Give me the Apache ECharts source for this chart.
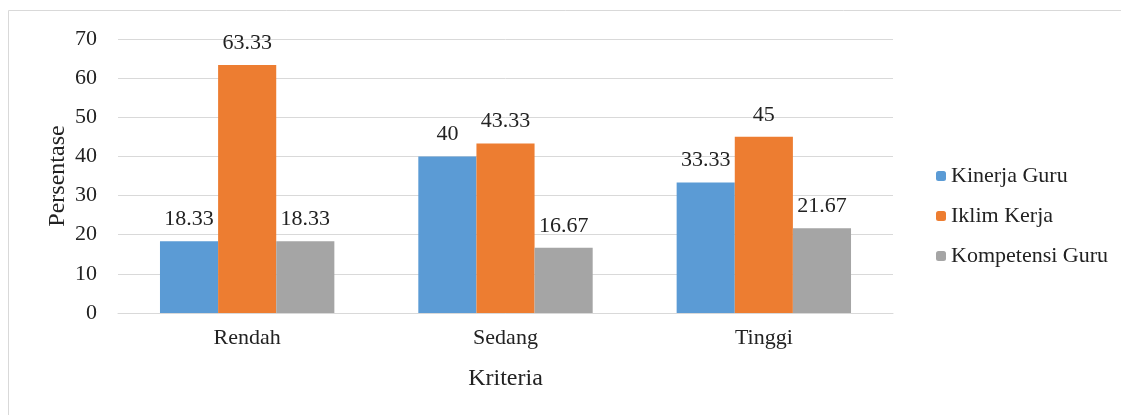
<!DOCTYPE html>
<html><head><meta charset="utf-8">
<script src="https://cdn.jsdelivr.net/npm/echarts@6/dist/echarts.min.js"></script>
<style>html,body{margin:0;padding:0;background:#fff}#c{width:1121px;height:415px}</style>
</head><body><div id="c"></div>
<script>
const categories = ['Rendah', 'Sedang', 'Tinggi'];
const kinerjaGuru = [18.33, 40, 33.33];
const iklimKerja = [63.33, 43.33, 45];
const kompetensiGuru = [18.33, 16.67, 21.67];
const yTicks = {min: 0, max: 70, interval: 10};

const font = '"Liberation Serif", "Times New Roman", serif';
const chart = echarts.init(document.getElementById('c'));
const lbl = {show: true, position: 'top', fontFamily: font, fontSize: 22, color: '#222', distance: 11};
function mk(name, data, color) {
  return {name, type: 'bar', data, itemStyle: {color}, barGap: 0, barCategoryGap: '32.5%', label: lbl};
}
chart.setOption({
  animation: false,
  graphic: [{type: 'rect', shape: {x: 8.5, y: 10.5, width: 1130, height: 420}, style: {fill: 'none', stroke: '#d9d9d9', lineWidth: 1}}],
  grid: {left: 118, right: 228, top: 39, bottom: 102, containLabel: false},
  legend: {
    orient: 'vertical', left: 931, top: 160, itemWidth: 10, itemHeight: 10, itemGap: 18,
    textStyle: {fontFamily: font, fontSize: 22, color: '#222'},
    data: ['Kinerja Guru', 'Iklim Kerja', 'Kompetensi Guru']
  },
  xAxis: {
    type: 'category', data: categories,
    name: 'Kriteria', nameLocation: 'middle', nameGap: 54, nameMoveOverlap: false,
    nameTextStyle: {fontFamily: font, fontSize: 24, color: '#222'},
    axisLine: {lineStyle: {color: '#d9d9d9', width: 1}},
    axisTick: {show: false},
    axisLabel: {fontFamily: font, fontSize: 22, color: '#222', margin: 14}
  },
  yAxis: {
    type: 'value', min: yTicks.min, max: yTicks.max, interval: yTicks.interval,
    name: 'Persentase', nameLocation: 'middle', nameGap: 48, nameRotate: 90, nameMoveOverlap: false,
    nameTextStyle: {fontFamily: font, fontSize: 24, color: '#222'},
    axisLine: {show: false}, axisTick: {show: false},
    axisLabel: {fontFamily: font, fontSize: 22, color: '#222', margin: 21},
    splitLine: {lineStyle: {color: '#d9d9d9', width: 1}}
  },
  series: [
    mk('Kinerja Guru', kinerjaGuru, '#5b9bd5'),
    mk('Iklim Kerja', iklimKerja, '#ed7d31'),
    mk('Kompetensi Guru', kompetensiGuru, '#a5a5a5')
  ]
});
</script></body></html>
